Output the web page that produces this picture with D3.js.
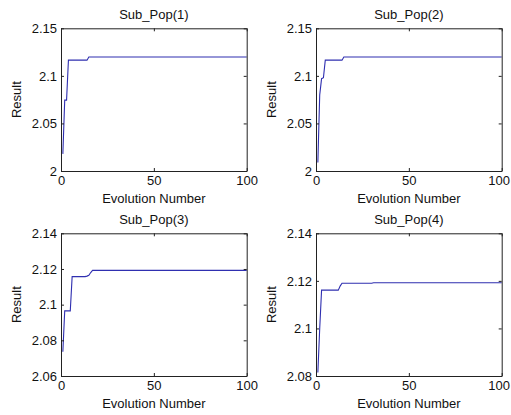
<!DOCTYPE html>
<html>
<head>
<meta charset="utf-8">
<script src="https://cdn.jsdelivr.net/npm/d3@7/dist/d3.min.js"></script>
<style>
  html, body { margin: 0; padding: 0; background: #fff; }
  svg { display: block; }
  text { font-family: "Liberation Sans", Arial, sans-serif; fill: #111; }
</style>
</head>
<body>
<svg id="chart" width="511" height="415"></svg>
<script>
// ---- Data ----
const titles = ["Sub_Pop(1)", "Sub_Pop(2)", "Sub_Pop(3)", "Sub_Pop(4)"];
const xLabel = "Evolution Number";
const yLabel = "Result";
const xTicks = [0, 50, 100];

// generation numbers where the best value changes, and the values there
const gens1 = [1, 2, 3, 4, 14, 15, 100];
const vals1 = [2.018, 2.0745, 2.0745, 2.1165, 2.1165, 2.1199, 2.1199];

const gens2 = [1, 2, 3, 4, 5, 14, 15, 100];
const vals2 = [2.009, 2.08, 2.097, 2.098, 2.1165, 2.1165, 2.1199, 2.1199];

const gens3 = [1, 2, 5, 6, 13, 14, 15, 16, 17, 100];
const vals3 = [2.0736, 2.0965, 2.0965, 2.1157, 2.1157, 2.116, 2.1165, 2.118, 2.1192, 2.1192];

const gens4 = [1, 2, 3, 12, 13, 14, 30, 31, 100];
const vals4 = [2.0815, 2.1, 2.1161, 2.1161, 2.1178, 2.119, 2.119, 2.1192, 2.1192];

const yDomains = [[2, 2.15], [2, 2.15], [2.06, 2.14], [2.08, 2.14]];
const yTicks1 = [2, 2.05, 2.1, 2.15];
const yTicks2 = [2, 2.05, 2.1, 2.15];
const yTicks3 = [2.06, 2.08, 2.1, 2.12, 2.14];
const yTicks4 = [2.08, 2.1, 2.12, 2.14];

const series = [
  { gens: gens1, vals: vals1, ticks: yTicks1 },
  { gens: gens2, vals: vals2, ticks: yTicks2 },
  { gens: gens3, vals: vals3, ticks: yTicks3 },
  { gens: gens4, vals: vals4, ticks: yTicks4 }
];

// ---- Layout ----
const W = 511, H = 415;
const panelW = 185.7, panelH = 142.7;
const origins = [[61, 28.3], [316, 28.3], [61, 233.3], [316, 233.3]];
const lineColor = "#2f2fb0";
const axisColor = "#222";
const fontSize = 13;

const svg = d3.select("#chart");
svg.append("rect").attr("width", W).attr("height", H).attr("fill", "#fff");

const fmt = d => String(+d.toFixed(4));

series.forEach((s, i) => {
  const [ox, oy] = origins[i];
  const g = svg.append("g").attr("transform", `translate(${ox},${oy})`);
  const x = d3.scaleLinear().domain([0, 100]).range([0, panelW]);
  const y = d3.scaleLinear().domain(yDomains[i]).range([panelH, 0]);

  // data line
  const pts = s.gens.map((gn, k) => [gn, s.vals[k]]);
  g.append("path")
    .datum(pts)
    .attr("fill", "none")
    .attr("stroke", lineColor)
    .attr("stroke-width", 1.1)
    .attr("d", d3.line().x(d => x(d[0])).y(d => y(d[1])));

  // axes
  const left = g.append("g").call(d3.axisLeft(y).tickValues(s.ticks).tickFormat(fmt).tickSize(-3).tickSizeOuter(0).tickPadding(4));
  const right = g.append("g").attr("transform", `translate(${panelW},0)`)
    .call(d3.axisRight(y).tickValues(s.ticks).tickFormat("").tickSize(-3).tickSizeOuter(0));
  const bottom = g.append("g").attr("transform", `translate(0,${panelH})`)
    .call(d3.axisBottom(x).tickValues(xTicks).tickFormat(d3.format("d")).tickSize(-3).tickSizeOuter(0).tickPadding(5));
  const top = g.append("g")
    .call(d3.axisTop(x).tickValues(xTicks).tickFormat("").tickSize(-3).tickSizeOuter(0));

  [left, right, bottom, top].forEach(a => {
    a.selectAll("path.domain").attr("stroke", axisColor).attr("stroke-width", 1);
    a.selectAll("line").attr("stroke", axisColor);
    a.selectAll("text").attr("font-size", fontSize).attr("fill", "#111")
      .attr("font-family", '"Liberation Sans", Arial, sans-serif');
  });

  // keep the right-most tick label inside the picture
  bottom.selectAll(".tick text").each(function () {
    const bb = this.getBoundingClientRect();
    if (bb.right > W - 1) {
      const t = d3.select(this);
      t.attr("x", -(bb.right - (W - 1)));
    }
  });

  // title
  g.append("text")
    .attr("x", panelW / 2).attr("y", -9)
    .attr("text-anchor", "middle").attr("font-size", fontSize)
    .text(titles[i]);
  // x label
  g.append("text")
    .attr("x", panelW / 2).attr("y", panelH + 32.3)
    .attr("text-anchor", "middle").attr("font-size", fontSize)
    .text(xLabel);
  // y label
  g.append("text")
    .attr("transform", `translate(-39.7,${panelH / 2}) rotate(-90)`)
    .attr("text-anchor", "middle").attr("font-size", fontSize)
    .text(yLabel);
});
</script>
</body>
</html>
